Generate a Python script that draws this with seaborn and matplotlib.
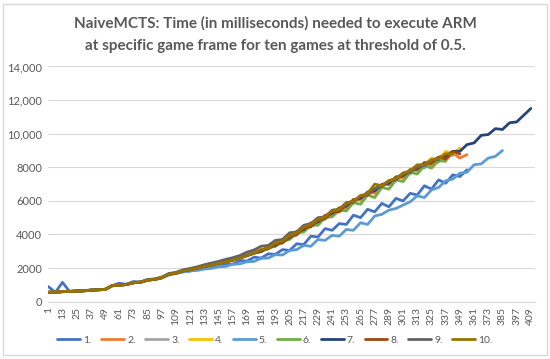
import matplotlib
matplotlib.use("Agg")
import matplotlib.pyplot as plt
import seaborn as sns
import pandas as pd
from matplotlib.patches import Rectangle

# frames sampled every 6 game frames (1, 7, 13, ...)
step = 6

# === Datos (ms) ===
g1 = [900, 560, 1150, 610, 620, 640, 700, 720, 730, 960, 1100, 1030, 1200, 1160, 1280, 1330, 1420, 1600,
      1680, 1800, 1820, 1980, 1950, 2120, 2080, 2250, 2240, 2450, 2420, 2650, 2600, 2850, 2820, 3100, 3050,
      3450, 3400, 3900, 3850, 4350, 4250, 4650, 4600, 5150, 5000, 5500, 5350, 5850, 5650, 6150, 6000, 6450,
      6350, 6900, 6700, 7250, 7050, 7550, 7450, 7850]
g2 = [570, 560, 590, 620, 640, 650, 690, 700, 740, 960, 980, 1030, 1120, 1170, 1280, 1340, 1420, 1650,
      1690, 1850, 1890, 2010, 2090, 2190, 2270, 2390, 2470, 2620, 2730, 2910, 2980, 3250, 3300, 3650, 3750,
      4200, 4250, 4700, 4650, 5150, 5200, 5600, 5550, 6100, 6050, 6550, 6450, 7000, 6950, 7450, 7350, 7900,
      7800, 8300, 8100, 8600, 8400, 8850, 8550, 8750]
g3 = [560, 580, 600, 600, 630, 660, 680, 710, 720, 950, 1000, 1010, 1140, 1150, 1300, 1320, 1440, 1630,
      1710, 1830, 1910, 1990, 2110, 2170, 2290, 2370, 2490, 2590, 2760, 2890, 3100, 3150, 3450, 3500, 3900,
      3950, 4400, 4500, 4850, 4900, 5400, 5350, 5850, 5850, 6300, 6350, 6750, 6800, 7200, 7200, 7650, 7600,
      8050, 7950, 8400, 8300, 8700, 8700]
g4 = [555, 570, 605, 615, 625, 655, 675, 715, 730, 945, 995, 1015, 1135, 1155, 1295, 1325, 1435, 1645,
      1695, 1845, 1895, 2005, 2095, 2185, 2275, 2385, 2475, 2605, 2745, 2895, 3080, 3150, 3450, 3550, 3900,
      4050, 4450, 4500, 4900, 4950, 5400, 5400, 5850, 5900, 6300, 6350, 6750, 6850, 7200, 7300, 7650, 7700,
      8100, 8150, 8550, 8500, 8950, 8800, 9150]
g5 = [560, 570, 600, 610, 630, 650, 680, 710, 730, 950, 990, 1020, 1130, 1160, 1290, 1330, 1430, 1640,
      1700, 1760, 1840, 1860, 1950, 1980, 2080, 2100, 2230, 2250, 2380, 2400, 2580, 2600, 2800, 2780, 3050,
      3100, 3350, 3300, 3700, 3650, 3950, 3900, 4300, 4250, 4700, 4600, 5100, 5200, 5450, 5550, 5750, 5950,
      6300, 6200, 6650, 6800, 7200, 7300, 7650, 7700, 8150, 8200, 8550, 8650, 9000]
g6 = [560, 565, 600, 610, 630, 650, 680, 710, 730, 950, 990, 1020, 1130, 1160, 1290, 1330, 1430, 1640,
      1700, 1840, 1900, 2000, 2100, 2180, 2280, 2380, 2480, 2600, 2750, 2880, 2980, 3200, 3300, 3600, 3700,
      4100, 4150, 4550, 4550, 5000, 5050, 5450, 5400, 5900, 5800, 6350, 6200, 6800, 6700, 7250, 7150, 7700,
      7600, 8100, 7950, 8400, 8350]
g7 = [560, 570, 600, 610, 630, 650, 680, 710, 730, 950, 990, 1020, 1130, 1160, 1290, 1330, 1430, 1640,
      1700, 1840, 1900, 2000, 2100, 2180, 2280, 2380, 2480, 2600, 2750, 2900, 3000, 3250, 3350, 3650, 3800,
      4150, 4300, 4650, 4750, 5100, 5250, 5550, 5700, 6050, 6150, 6500, 6600, 6950, 7050, 7400, 7500, 7800,
      7900, 8250, 8300, 8600, 8650, 8950, 8950, 9350, 9450, 9900, 9950, 10300, 10250, 10650, 10700, 11100,
      11500]
g8 = [560, 575, 595, 615, 635, 645, 685, 705, 735, 955, 985, 1025, 1125, 1165, 1285, 1335, 1425, 1635,
      1705, 1835, 1905, 1995, 2105, 2175, 2285, 2375, 2485, 2595, 2755, 2885, 3050, 3150, 3400, 3500, 3850,
      4000, 4400, 4450, 4850, 4950, 5350, 5350, 5800, 5950, 6300, 6350, 6700, 6950, 7150, 7350, 7550, 7800,
      7950, 8200, 8250, 8600, 8500, 8950, 8800]
g9 = [560, 570, 600, 610, 640, 660, 690, 720, 740, 960, 1000, 1040, 1150, 1180, 1320, 1360, 1470, 1680,
      1750, 1900, 1980, 2080, 2200, 2300, 2400, 2520, 2620, 2750, 2950, 3080, 3300, 3350, 3650, 3700, 4100,
      4150, 4550, 4650, 5000, 5050, 5450, 5500, 5900, 5950, 6300, 6400, 6750, 6850, 7200, 7250, 7650, 7700,
      8050, 8100, 8400, 8450]
g10 = [560, 565, 600, 610, 630, 650, 680, 710, 730, 950, 990, 1020, 1130, 1160, 1290, 1330, 1430, 1640,
       1700, 1840, 1900, 2000, 2100, 2180, 2280, 2380, 2480, 2600, 2750, 2900, 3100, 3200, 3500, 3600, 3950,
       4100, 4450, 4600, 4900, 5050, 5400, 5500, 5850, 6000, 6300, 6450, 7000, 6900, 7200, 7350, 7650, 7800,
       8150, 8150, 8450, 8500, 8800, 8800]

series = [g1, g2, g3, g4, g5, g6, g7, g8, g9, g10]
labels = ["1.", "2.", "3.", "4.", "5.", "6.", "7.", "8.", "9.", "10."]
colores = ["#4472C4", "#ED7D31", "#A5A5A5", "#FFC000", "#5B9BD5",
           "#70AD47", "#264478", "#9E480E", "#636363", "#997300"]

y_ticks = [0, 2000, 4000, 6000, 8000, 10000, 12000, 14000]
y_labels = ["0", "2000", "4000", "6000", "8000", "10,000", "12,000", "14,000"]
x_ticks = list(range(1, 410, 12))

# Tabla larga para seaborn
filas = []
for lab, vals in zip(labels, series):
    for i, v in enumerate(vals):
        filas.append({"frame": 1 + i * step, "ms": v, "juego": lab})
df = pd.DataFrame(filas)

sns.set_style("white")
plt.rcParams["font.family"] = ["Lato", "DejaVu Sans"]
gris = "#595959"

fig = plt.figure(figsize=(5.5, 3.59), dpi=100)
ax = fig.add_axes([0.0867, 0.1596, 0.886, 0.6552])

sns.lineplot(data=df, x="frame", y="ms", hue="juego", hue_order=labels,
             palette=dict(zip(labels, colores)), estimator=None, sort=False,
             linewidth=2.0, ax=ax, legend=True)

ax.set_xlim(0.5, 412.5)
ax.set_ylim(0, 14000)
ax.set_yticks(y_ticks)
ax.set_yticklabels(y_labels, fontsize=8, color=gris)
ax.set_xticks(x_ticks)
ax.set_xticklabels([str(t) for t in x_ticks], rotation=90, fontsize=7.5, color=gris)
ax.tick_params(axis="both", length=0, pad=4)
ax.set_xlabel("")
ax.set_ylabel("")
ax.grid(axis="y", color="#d9d9d9", linewidth=0.8)
ax.set_axisbelow(True)
for s in ["top", "right", "left"]:
    ax.spines[s].set_visible(False)
ax.spines["bottom"].set_color("#d9d9d9")

# Título en dos líneas
fig.text(0.5, 0.934, "NaiveMCTS: Time (in milliseconds) needed to execute ARM",
         ha="center", va="center", fontsize=11, fontweight="bold", color=gris)
fig.text(0.5, 0.872, "at specific game frame for ten games at threshold of 0.5.",
         ha="center", va="center", fontsize=11, fontweight="bold", color=gris)

leg = ax.legend(loc="center", bbox_to_anchor=(0.5, 0.052), bbox_transform=fig.transFigure,
                ncol=10, frameon=False, fontsize=7.5, handlelength=2.2, handletextpad=0.3,
                columnspacing=0.9)
for t in leg.get_texts():
    t.set_color(gris)

fig.patches.append(Rectangle((0.005, 0.01), 0.99, 0.98, transform=fig.transFigure,
                             fill=False, edgecolor="#d9d9d9", linewidth=1))

fig.savefig("out.png", dpi=100)
